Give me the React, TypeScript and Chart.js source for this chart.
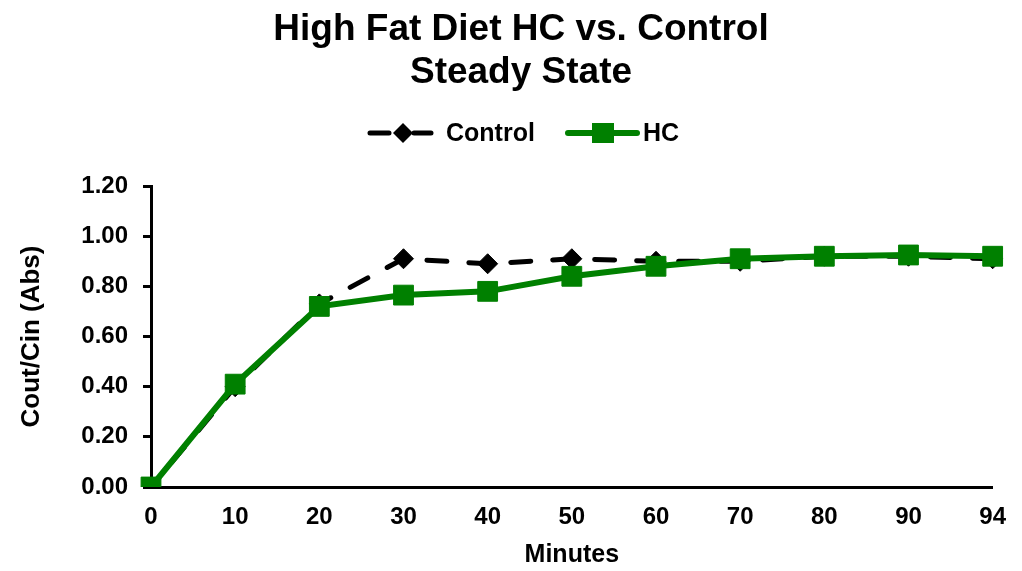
import React, { useEffect, useRef } from "react";
import { Chart, registerables } from "chart.js";

Chart.register(...registerables);

const categories = ["0", "10", "20", "30", "40", "50", "60", "70", "80", "90", "94"];
const controlValues = [0, 0.4, 0.73, 0.91, 0.89, 0.91, 0.9, 0.9, 0.92, 0.92, 0.91];
const hcValues = [0, 0.41, 0.72, 0.765, 0.78, 0.84, 0.88, 0.91, 0.92, 0.925, 0.92];
const titleLines = ["High Fat Diet HC vs. Control", "Steady State"];
const seriesNames = ["Control", "HC"];
const FONT = "'Liberation Sans', Arial, sans-serif";
const GREEN = "#008000";

const headerPlugin = {
  id: "header",
  afterDraw(chart: any) {
    const ctx = chart.ctx;
    ctx.save();
    // Title
    ctx.fillStyle = "#000";
    ctx.font = "bold 37px " + FONT;
    ctx.textAlign = "center";
    ctx.textBaseline = "middle";
    ctx.fillText(titleLines[0], 521, 30);
    ctx.fillText(titleLines[1], 521, 73);

    const cx = 511;
    const y = 133;
    // Control legend
    ctx.strokeStyle = "#000";
    ctx.lineWidth = 5;
    ctx.lineCap = "round";
    ctx.beginPath();
    ctx.moveTo(cx - 141, y);
    ctx.lineTo(cx - 122, y);
    ctx.moveTo(cx - 97, y);
    ctx.lineTo(cx - 80, y);
    ctx.stroke();
    ctx.fillStyle = "#000";
    ctx.beginPath();
    ctx.moveTo(cx - 108, y - 10);
    ctx.lineTo(cx - 98, y);
    ctx.lineTo(cx - 108, y + 10);
    ctx.lineTo(cx - 118, y);
    ctx.closePath();
    ctx.fill();
    ctx.font = "bold 25px " + FONT;
    ctx.textBaseline = "middle";
    ctx.textAlign = "left";
    ctx.fillText(seriesNames[0], cx - 65, y + 1);
    // HC legend
    ctx.strokeStyle = GREEN;
    ctx.lineWidth = 6;
    ctx.beginPath();
    ctx.moveTo(cx + 57, y);
    ctx.lineTo(cx + 126, y);
    ctx.stroke();
    ctx.fillStyle = GREEN;
    ctx.fillRect(cx + 81, y - 10, 22, 20);
    ctx.fillStyle = "#000";
    ctx.fillText(seriesNames[1], cx + 132, y + 1);
    ctx.restore();
  },
};

export default function App() {
  const ref = useRef<HTMLCanvasElement | null>(null);
  useEffect(() => {
    if (!ref.current) return;
    const chart = new Chart(ref.current, {
      type: "line",
      data: {
        labels: categories,
        datasets: [
          {
            label: seriesNames[0],
            data: controlValues,
            borderColor: "#000",
            backgroundColor: "#000",
            borderWidth: 5,
            borderDash: [20, 22],
            borderDashOffset: 10,
            borderCapStyle: "round",
            pointStyle: "rectRot",
            pointRadius: 10,
            pointBorderWidth: 1,
            pointBackgroundColor: "#000",
            pointBorderColor: "#000",
            tension: 0,
            order: 1,
          },
          {
            label: seriesNames[1],
            data: hcValues,
            borderColor: GREEN,
            backgroundColor: GREEN,
            borderWidth: 6,
            pointStyle: "rect",
            pointRadius: 14,
            pointBorderWidth: 1,
            pointBackgroundColor: GREEN,
            pointBorderColor: GREEN,
            tension: 0,
            order: 0,
          },
        ],
      },
      options: {
        animation: false,
        responsive: false,
        layout: { padding: { left: 0, right: 29, top: 186, bottom: 0 } },
        plugins: {
          legend: { display: false },
          tooltip: { enabled: false },
          title: { display: false },
        },
        scales: {
          x: {
            type: "category",
            offset: false,
            grid: { display: false, drawTicks: false },
            border: { display: true, color: "#000", width: 3 },
            ticks: {
              color: "#000",
              font: { family: FONT, size: 24, weight: "bold" },
              padding: 16,
              maxRotation: 0,
              autoSkip: false,
            },
            title: {
              display: true,
              text: "Minutes",
              color: "#000",
              font: { family: FONT, size: 25, weight: "bold", lineHeight: 1 },
              padding: { top: 0, bottom: 3 },
            },
            afterFit(scale: any) {
              scale.height = 84;
            },
          },
          y: {
            min: 0,
            max: 1.2,
            grid: {
              display: true,
              drawOnChartArea: false,
              drawTicks: true,
              tickLength: 8,
              color: "#000",
              lineWidth: 3,
            },
            border: { display: true, color: "#000", width: 3 },
            ticks: {
              stepSize: 0.2,
              color: "#000",
              font: { family: FONT, size: 24, weight: "bold" },
              padding: 15,
              callback: (v: any) => Number(v).toFixed(2),
            },
            title: {
              display: true,
              text: "Cout/Cin (Abs)",
              color: "#000",
              font: { family: FONT, size: 26, weight: "bold" },
              padding: { top: 16, bottom: 0 },
            },
            afterFit(scale: any) {
              scale.width = 151;
            },
          },
        },
      },
      plugins: [headerPlugin],
    });
    return () => chart.destroy();
  }, []);
  return (
    <div style={{ position: "fixed", left: 0, top: 0, width: 1022, height: 571, background: "#fff" }}>
      <canvas ref={ref} width={1022} height={571} style={{ display: "block" }} />
    </div>
  );
}
